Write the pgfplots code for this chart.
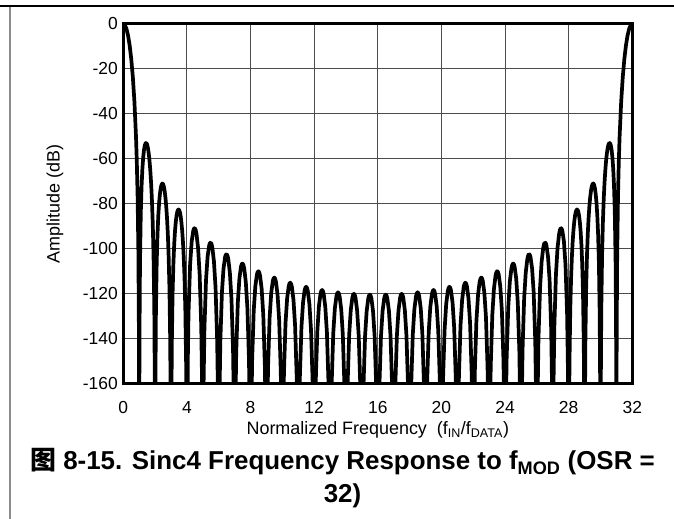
\documentclass[border=0pt]{standalone}
\usepackage{fontspec}
\setmainfont{Liberation Sans}
\newfontfamily\cjk{Noto Sans CJK SC}
\usepackage{pgfplots}
\pgfplotsset{compat=1.18}
\begin{document}
\begin{tikzpicture}
\useasboundingbox (0bp,0bp) rectangle (674bp,519bp);
\draw[black, line width=1.4bp] (0bp,513bp) -- (674bp,513bp);
\draw[black!45, line width=2.5bp] (9.8bp,512.3bp) -- (9.8bp,0bp);
\begin{axis}[
  at={(123.3bp,135.2bp)}, anchor=south west,
  scale only axis, width=509bp, height=360.1bp,
  xmin=0, xmax=32, ymin=-160, ymax=0,
  xtick={0,4,...,32}, ytick={-160,-140,...,0},
  xticklabels={0,4,8,12,16,20,24,28,32},
  yticklabels={-160,-140,-120,-100,-80,-60,-40,-20,0},
  grid=major, major grid style={black!70, line width=1bp},
  major tick length=0pt,
  axis line style={line width=2.6bp},
  tick label style={font=\fontsize{17.5}{20}\selectfont},
  xticklabel style={anchor=base, yshift=-29.5bp},
  yticklabel style={xshift=-2bp},
  clip=true,
]
\addplot[black, line width=3.7bp, line join=round] coordinates {
(0,0) (0.1,-0.57) (0.2,-2.32) (0.3,-5.30) (0.4,-9.67) (0.5,-15.68) (0.6,-23.75) (0.7,-34.72) (0.8,-50.45) (0.85,-61.52) (0.9,-76.87) (0.95,-102.39) (0.98,-135.18) (0.99,-159.6) (1,-250)
(1.01,-160.29) (1.02,-136.57) (1.05,-105.86) (1.1,-83.82) (1.15,-71.99) (1.2,-64.49) (1.25,-59.48) (1.3,-56.15) (1.35,-54.11) (1.4,-53.09) (1.45,-52.99) (1.5,-53.73) (1.55,-55.30) (1.6,-57.70) (1.65,-61.03) (1.7,-65.41) (1.75,-71.08) (1.8,-78.47) (1.85,-88.40) (1.9,-102.67) (1.95,-127.21) (1.98,-159.46) (1.99,-183.69) (2,-250)
(2.02,-160.14) (2.05,-128.93) (2.1,-106.10) (2.15,-93.55) (2.2,-85.36) (2.25,-79.70) (2.3,-75.78) (2.35,-73.16) (2.4,-71.61) (2.45,-71.00) (2.5,-71.26) (2.55,-72.36) (2.6,-74.33) (2.65,-77.25) (2.7,-81.23) (2.75,-86.54) (2.8,-93.57) (2.85,-103.15) (2.9,-117.10) (2.95,-141.32) (2.98,-173.38) (3,-250)
(3.02,-173.83) (3.05,-142.45) (3.1,-119.35) (3.15,-106.52) (3.2,-98.07) (3.25,-92.17) (3.3,-88.01) (3.35,-85.16) (3.4,-83.39) (3.45,-82.56) (3.5,-82.61) (3.55,-83.52) (3.6,-85.29) (3.65,-88.02) (3.7,-91.82) (3.75,-96.95) (3.8,-103.81) (3.85,-113.22) (3.9,-127.01) (3.95,-151.08) (3.98,-183.05) (4,-250)
(4.05,-151.87) (4.1,-128.61) (4.2,-107.04) (4.3,-96.71) (4.4,-91.86) (4.45,-90.94) (4.5,-90.89) (4.55,-91.66) (4.6,-93.31) (4.7,-99.61) (4.8,-111.39) (4.9,-134.41) (4.95,-158.39) (5,-250)
(5.05,-159.03) (5.1,-135.69) (5.2,-113.95) (5.3,-103.45) (5.4,-98.43) (5.45,-97.42) (5.5,-97.30) (5.55,-97.99) (5.6,-99.58) (5.7,-105.73) (5.8,-117.37) (5.9,-140.25) (5.95,-164.17) (6,-250)
(6.05,-164.68) (6.1,-141.28) (6.2,-119.42) (6.3,-108.81) (6.4,-103.67) (6.45,-102.60) (6.5,-102.41) (6.55,-103.06) (6.6,-104.59) (6.7,-110.65) (6.8,-122.19) (6.9,-144.96) (6.95,-168.83) (7,-250)
(7.05,-169.25) (7.1,-145.80) (7.2,-123.85) (7.3,-113.15) (7.4,-107.92) (7.45,-106.81) (7.5,-106.58) (7.55,-107.19) (7.6,-108.68) (7.7,-114.66) (7.8,-126.11) (7.9,-148.81) (7.95,-172.64) (8,-250)
(8.05,-172.98) (8.1,-149.50) (8.2,-127.48) (8.3,-116.71) (8.4,-111.41) (8.45,-110.26) (8.5,-110.00) (8.55,-110.57) (8.6,-112.03) (8.7,-117.94) (8.8,-129.34) (8.9,-151.97) (8.95,-175.77) (9,-250)
(9.05,-176.05) (9.1,-152.53) (9.2,-130.46) (9.3,-119.63) (9.4,-114.27) (9.45,-113.10) (9.5,-112.80) (9.55,-113.35) (9.6,-114.78) (9.7,-120.64) (9.8,-131.98) (9.9,-154.56) (9.95,-178.33) (10,-250)
(10.05,-178.56) (10.1,-155.02) (10.2,-132.89) (10.3,-122.01) (10.4,-116.60) (10.45,-115.40) (10.5,-115.08) (10.55,-115.61) (10.6,-117.01) (10.7,-122.83) (10.8,-134.12) (10.9,-156.65) (10.95,-180.40) (11,-250)
(11.05,-180.58) (11.1,-157.02) (11.2,-134.85) (11.3,-123.92) (11.4,-118.47) (11.45,-117.25) (11.5,-116.91) (11.55,-117.41) (11.6,-118.80) (11.7,-124.57) (11.8,-135.82) (11.9,-158.31) (11.95,-182.04) (12,-250)
(12.05,-182.18) (12.1,-158.59) (12.2,-136.38) (12.3,-125.42) (12.4,-119.93) (12.45,-118.68) (12.5,-118.32) (12.55,-118.81) (12.6,-120.17) (12.7,-125.91) (12.8,-137.12) (12.9,-159.57) (12.95,-183.28) (13,-250)
(13.05,-183.38) (13.1,-159.78) (13.2,-137.53) (13.3,-126.53) (13.4,-121.00) (13.45,-119.74) (13.5,-119.36) (13.55,-119.82) (13.6,-121.17) (13.7,-126.87) (13.8,-138.05) (13.9,-160.46) (13.95,-184.15) (14,-250)
(14.05,-184.22) (14.1,-160.60) (14.2,-138.32) (14.3,-127.28) (14.4,-121.72) (14.45,-120.43) (14.5,-120.03) (14.55,-120.49) (14.6,-121.82) (14.7,-127.48) (14.8,-138.62) (14.9,-161.00) (14.95,-184.67) (15,-250)
(15.05,-184.71) (15.1,-161.07) (15.2,-138.75) (15.3,-127.68) (15.4,-122.09) (15.45,-120.79) (15.5,-120.37) (15.55,-120.80) (15.6,-122.12) (15.7,-127.75) (15.8,-138.86) (15.9,-161.20) (15.95,-184.86) (16,-250)
(16.05,-184.86) (16.1,-161.20) (16.2,-138.86) (16.3,-127.75) (16.4,-122.12) (16.45,-120.80) (16.5,-120.37) (16.55,-120.79) (16.6,-122.09) (16.7,-127.68) (16.8,-138.75) (16.9,-161.07) (16.95,-184.71) (17,-250)
(17.05,-184.67) (17.1,-161.00) (17.2,-138.62) (17.3,-127.48) (17.4,-121.82) (17.45,-120.49) (17.5,-120.03) (17.55,-120.43) (17.6,-121.72) (17.7,-127.28) (17.8,-138.32) (17.9,-160.60) (17.95,-184.22) (18,-250)
(18.05,-184.15) (18.1,-160.46) (18.2,-138.05) (18.3,-126.87) (18.4,-121.17) (18.45,-119.82) (18.5,-119.36) (18.55,-119.74) (18.6,-121.00) (18.7,-126.53) (18.8,-137.53) (18.9,-159.78) (18.95,-183.38) (19,-250)
(19.05,-183.28) (19.1,-159.57) (19.2,-137.12) (19.3,-125.91) (19.4,-120.17) (19.45,-118.81) (19.5,-118.32) (19.55,-118.68) (19.6,-119.93) (19.7,-125.42) (19.8,-136.38) (19.9,-158.59) (19.95,-182.18) (20,-250)
(20.05,-182.04) (20.1,-158.31) (20.2,-135.82) (20.3,-124.57) (20.4,-118.80) (20.45,-117.41) (20.5,-116.91) (20.55,-117.25) (20.6,-118.47) (20.7,-123.92) (20.8,-134.85) (20.9,-157.02) (20.95,-180.58) (21,-250)
(21.05,-180.40) (21.1,-156.65) (21.2,-134.12) (21.3,-122.83) (21.4,-117.01) (21.45,-115.61) (21.5,-115.08) (21.55,-115.40) (21.6,-116.60) (21.7,-122.01) (21.8,-132.89) (21.9,-155.02) (21.95,-178.56) (22,-250)
(22.05,-178.33) (22.1,-154.56) (22.2,-131.98) (22.3,-120.64) (22.4,-114.78) (22.45,-113.35) (22.5,-112.80) (22.55,-113.10) (22.6,-114.27) (22.7,-119.63) (22.8,-130.46) (22.9,-152.53) (22.95,-176.05) (23,-250)
(23.05,-175.77) (23.1,-151.97) (23.2,-129.34) (23.3,-117.94) (23.4,-112.03) (23.45,-110.57) (23.5,-110.00) (23.55,-110.26) (23.6,-111.41) (23.7,-116.71) (23.8,-127.48) (23.9,-149.50) (23.95,-172.98) (24,-250)
(24.05,-172.64) (24.1,-148.81) (24.2,-126.11) (24.3,-114.66) (24.4,-108.68) (24.45,-107.19) (24.5,-106.58) (24.55,-106.81) (24.6,-107.92) (24.7,-113.15) (24.8,-123.85) (24.9,-145.80) (24.95,-169.25) (25,-250)
(25.05,-168.83) (25.1,-144.96) (25.2,-122.19) (25.3,-110.65) (25.4,-104.59) (25.45,-103.06) (25.5,-102.41) (25.55,-102.60) (25.6,-103.67) (25.7,-108.81) (25.8,-119.42) (25.9,-141.28) (25.95,-164.68) (26,-250)
(26.05,-164.17) (26.1,-140.25) (26.2,-117.37) (26.3,-105.73) (26.4,-99.58) (26.45,-97.99) (26.5,-97.30) (26.55,-97.42) (26.6,-98.43) (26.7,-103.45) (26.8,-113.95) (26.9,-135.69) (26.95,-159.03) (27,-250)
(27.05,-158.39) (27.1,-134.41) (27.2,-111.39) (27.3,-99.61) (27.4,-93.31) (27.45,-91.66) (27.5,-90.89) (27.55,-90.94) (27.6,-91.86) (27.7,-96.71) (27.8,-107.04) (27.9,-128.61) (27.95,-151.87) (28,-250)
(28.02,-183.05) (28.05,-151.08) (28.1,-127.01) (28.15,-113.22) (28.2,-103.81) (28.25,-96.95) (28.3,-91.82) (28.35,-88.02) (28.4,-85.29) (28.45,-83.52) (28.5,-82.61) (28.55,-82.56) (28.6,-83.39) (28.65,-85.16) (28.7,-88.01) (28.75,-92.17) (28.8,-98.07) (28.85,-106.52) (28.9,-119.35) (28.95,-142.45) (28.98,-173.83) (29,-250)
(29.02,-173.38) (29.05,-141.32) (29.1,-117.10) (29.15,-103.15) (29.2,-93.57) (29.25,-86.54) (29.3,-81.23) (29.35,-77.25) (29.4,-74.33) (29.45,-72.36) (29.5,-71.26) (29.55,-71.00) (29.6,-71.61) (29.65,-73.16) (29.7,-75.78) (29.75,-79.70) (29.8,-85.36) (29.85,-93.55) (29.9,-106.10) (29.95,-128.93) (29.98,-160.14) (30,-250)
(30.01,-183.69) (30.02,-159.46) (30.05,-127.21) (30.1,-102.67) (30.15,-88.40) (30.2,-78.47) (30.25,-71.08) (30.3,-65.41) (30.35,-61.03) (30.4,-57.70) (30.45,-55.30) (30.5,-53.73) (30.55,-52.99) (30.6,-53.09) (30.65,-54.11) (30.7,-56.15) (30.75,-59.48) (30.8,-64.49) (30.85,-71.99) (30.9,-83.82) (30.95,-105.86) (30.98,-136.57) (30.99,-160.29) (31,-250)
(31.01,-159.6) (31.02,-135.18) (31.05,-102.39) (31.1,-76.87) (31.15,-61.52) (31.2,-50.45) (31.3,-34.72) (31.4,-23.75) (31.5,-15.68) (31.6,-9.67) (31.7,-5.30) (31.8,-2.32) (31.9,-0.57) (32,0)
};
\end{axis}
\node[font=\fontsize{18}{21}\selectfont, anchor=base, inner sep=0pt] at (377.8bp,84bp) {Normalized Frequency\ \ (f\textsubscript{IN}/f\textsubscript{DATA})};
\node[font=\fontsize{18}{21}\selectfont, anchor=base, rotate=90, inner sep=0pt] at (59.6bp,315.2bp) {Amplitude (dB)};
\node[font=\fontsize{26}{30}\selectfont\bfseries, anchor=base, inner sep=0pt] at (342.5bp,49bp) {{\cjk 图} 8-15. Sinc4 Frequency Response to f\textsubscript{MOD} (OSR =};
\node[font=\fontsize{26}{30}\selectfont\bfseries, anchor=base, inner sep=0pt] at (342.5bp,17bp) {32)};
\end{tikzpicture}
\end{document}
